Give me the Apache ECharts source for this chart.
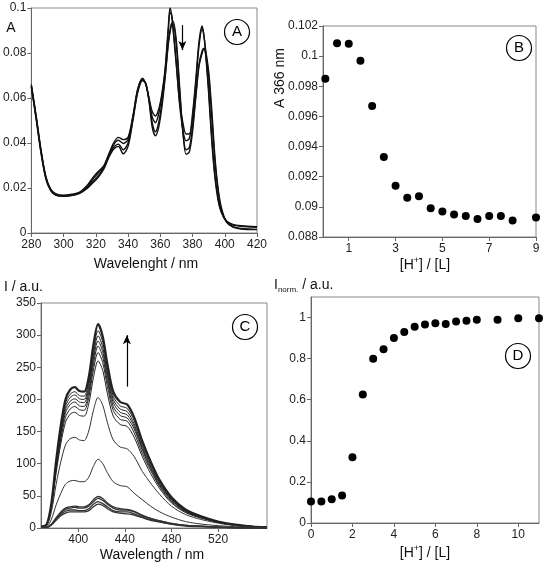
<!DOCTYPE html>
<html>
<head>
<meta charset="utf-8">
<script src="https://cdn.jsdelivr.net/npm/echarts@6/dist/echarts.min.js"></script>
<style>
  html, body { margin: 0; padding: 0; background: #fff; }
  #chart { width: 546px; height: 571px; }
</style>
</head>
<body>
<div id="chart"></div>
<script>
// panel A: absorption spectra
const absWl = [280,283,286,289,292,295,300,305,310,315,318,321,325,328,331,334,337,340,343,346,349,351,353,355,357,359,361,363,365,366,367,368,370,372,374,376,378,380,382,384,386,387,388,390,392,394,396,398,401,405,410,420];
const absA1 = [.066,.052,.037,.025,.0195,.0175,.0168,.0172,.0182,.0215,.0245,.027,.030,.035,.040,.0425,.0415,.0425,.052,.064,.0688,.066,.060,.054,.052,.055,.062,.073,.092,.100,.097,.090,.074,.058,.049,.044,.044,.053,.068,.085,.092,.088,.081,.062,.040,.024,.014,.009,.0055,.0038,.0032,.0028];
const absA2 = [.0655,.0515,.0365,.0248,.0192,.0172,.0166,.017,.018,.021,.0238,.0262,.0295,.0345,.0392,.0412,.0398,.0415,.0515,.0638,.0685,.0662,.0595,.0515,.049,.053,.061,.072,.090,.098,.097,.091,.075,.057,.046,.041,.042,.051,.066,.083,.091,.088,.082,.064,.042,.025,.015,.009,.0052,.0035,.003,.0025];
const absA3 = [.065,.051,.036,.0245,.019,.017,.0165,.0168,.0178,.0205,.0228,.025,.029,.034,.038,.0395,.037,.040,.0505,.063,.068,.0665,.059,.049,.045,.049,.058,.070,.085,.090,.093,.093,.083,.063,.045,.037,.038,.047,.061,.075,.081,.082,.080,.070,.051,.031,.018,.010,.005,.0028,.002,.0016];
const absA4 = [.0648,.0505,.0355,.024,.0188,.0168,.0163,.0166,.0176,.020,.0222,.0243,.0285,.0335,.0372,.0385,.0352,.0385,.050,.0625,.0678,.0665,.0585,.047,.0432,.047,.056,.069,.084,.089,.0925,.094,.085,.065,.045,.035,.036,.045,.060,.074,.080,.082,.0815,.072,.054,.033,.019,.011,.005,.0026,.0018,.0015];

// panel B: A at 366 nm vs [H+]/[L]
const ratioB = [0,0.5,1,1.5,2,2.5,3,3.5,4,4.5,5,5.5,6,6.5,7,7.5,8,9];
const abs366 = [0.0985,0.10085,0.10083,0.0997,0.0967,0.0933,0.0914,0.0906,0.0907,0.0899,0.0897,0.0895,0.0894,0.0892,0.0894,0.0894,0.0891,0.0893];

// panel C: emission spectra
const emWl = [368,373,377,381,385,389,393,397,401,405,409,413,417,421,425,430,436,442,448,455,462,470,480,492,506,525,545,562];
const emCurves = [
  [2,6,40,105,160,200,215,219,213,212,235,285,317,298,255,212,196,192,172,135,104,74,48,29,18,8,3,1],
  [2,6,39,102,155,194,208,212,206,205,228,276,307,289,247,205,190,186,167,131,101,72,46,28,17,8,3,1],
  [2,6,38,99,151,189,203,207,201,200,222,269,299,281,240,200,185,181,162,127,98,70,45,27,17,8,3,1],
  [2,5,37,96,147,184,197,201,196,195,216,262,291,274,234,195,180,176,158,124,95,68,44,27,17,7,3,1],
  [2,5,36,94,143,179,192,196,190,189,210,255,283,266,228,189,175,171,154,121,93,66,43,26,16,7,3,1],
  [2,5,34,90,138,172,185,189,184,183,203,246,273,257,220,183,169,166,148,116,90,64,41,25,16,7,3,1],
  [2,5,33,86,131,164,177,180,175,174,193,234,260,245,209,174,161,158,141,111,85,61,39,24,15,7,2,1],
  [1,4,26,68,103,129,139,141,137,136,151,183,203,191,164,137,126,123,111,88,70,52,34,21,13,6,2,1],
  [1,2,14,36,54,68,73,74,72,72,79,96,107,100,86,72,66,64,54,44,34,25,17,10,6,3,1,0],
  [1,1,6,16,25,31,33,34,33,33,36,44,49,46,39,33,30,29,26,20,15,11,7,4,3,1,1,0],
  [1,1,6,15,23,29,31,32,31,31,34,41,46,43,37,31,28,28,25,19,15,11,7,4,3,1,0,0],
  [1,1,5,14,21,26,28,28,27,27,30,37,41,38,33,27,25,25,22,17,13,10,6,4,2,1,0,0],
  [1,1,5,12,19,23,25,25,25,25,27,33,37,35,30,25,23,22,20,16,12,9,6,3,2,1,0,0]
];

// panel D: normalised intensity vs [H+]/[L]
const ratioD = [0,0.5,1,1.5,2,2.5,3,3.5,4,4.5,5,5.5,6,6.5,7,7.5,8,9,10,11];
const inorm = [0.105,0.105,0.115,0.134,0.320,0.626,0.799,0.846,0.900,0.930,0.955,0.966,0.972,0.968,0.981,0.985,0.989,0.989,0.997,0.997];

const FONT = '"Liberation Sans", Arial, sans-serif';
const zip = (xs, ys) => xs.map((x, i) => [x, ys[i]]);

function xAx(idx, min, max, opts) {
  return Object.assign({
    type: 'value', gridIndex: idx, min: min, max: max,
    axisLine: { show: true, onZero: false, lineStyle: { color: '#666', width: 1 } },
    axisTick: { show: true, length: 4, lineStyle: { color: '#666' } },
    axisLabel: { color: '#222', fontSize: 12, fontFamily: FONT, margin: 6 },
    splitLine: { show: false }
  }, opts);
}
function yAx(idx, min, max, interval, opts) {
  return Object.assign({
    type: 'value', gridIndex: idx, min: min, max: max, interval: interval,
    axisLine: { show: true, onZero: false, lineStyle: { color: '#666', width: 1 } },
    axisTick: { show: true, length: 4, inside: false, lineStyle: { color: '#666' } },
    axisLabel: { color: '#222', fontSize: 12, fontFamily: FONT, margin: 5 },
    splitLine: { show: false }
  }, opts);
}

const grids = [
  { left: 31, top: 8, width: 226, height: 225 },
  { left: 323, top: 26, width: 213, height: 211 },
  { left: 41, top: 303, width: 226, height: 225 },
  { left: 311, top: 297, width: 228, height: 226 }
].map(g => Object.assign(g, { show: true, borderColor: '#888', borderWidth: 1, containLabel: false }));

const series = [];
[absA1, absA2, absA3, absA4].forEach((ys, i) => {
  const s = {
    type: 'line', xAxisIndex: 0, yAxisIndex: 0, data: zip(absWl, ys),
    showSymbol: false, smooth: 0.3, lineStyle: { color: '#111', width: 1.4 }
  };
  if (i === 0) {
    s.markLine = {
      silent: true, symbol: ['none', 'arrow'], symbolSize: [6, 9],
      lineStyle: { color: '#000', type: 'solid', width: 1.2 }, label: { show: false },
      data: [[{ coord: [373.7, 0.0924] }, { coord: [373.7, 0.0813] }]]
    };
  }
  series.push(s);
});
series.push({
  type: 'scatter', xAxisIndex: 1, yAxisIndex: 1, data: zip(ratioB, abs366),
  symbolSize: 8, itemStyle: { color: '#000', opacity: 1 }
});
emCurves.forEach((ys, i) => {
  const s = {
    type: 'line', xAxisIndex: 2, yAxisIndex: 2, data: zip(emWl, ys),
    showSymbol: false, smooth: 0.3,
    lineStyle: { color: i < 7 ? '#222' : '#333', width: i === 0 ? 2.2 : (i >= 9 ? 1.3 : 1) }
  };
  if (i === 0) {
    s.markLine = {
      silent: true, symbol: ['none', 'arrow'], symbolSize: [6, 9],
      lineStyle: { color: '#000', type: 'solid', width: 1.2 }, label: { show: false },
      data: [[{ coord: [441.7, 220] }, { coord: [441.7, 300] }]]
    };
  }
  series.push(s);
});
series.push({
  type: 'scatter', xAxisIndex: 3, yAxisIndex: 3, data: zip(ratioD, inorm),
  symbolSize: 8, itemStyle: { color: '#000', opacity: 1 }
});

function circleLabel(cx, cy, letter) {
  return [
    { type: 'circle', shape: { cx: cx, cy: cy, r: 12.5 }, style: { fill: '#fff', stroke: '#000', lineWidth: 1.2 }, z: 100 },
    { type: 'text', x: cx, y: cy, z: 101, style: { text: letter, font: '15px ' + FONT, fill: '#000', align: 'center', verticalAlign: 'middle' } }
  ];
}
function txt(x, y, text, opts) {
  return Object.assign({ type: 'text', x: x, y: y, z: 100,
    style: { text: text, font: '14px ' + FONT, fill: '#111', align: 'center', verticalAlign: 'middle' } }, opts || {});
}

const graphics = [].concat(
  circleLabel(237, 32, 'A'), circleLabel(519, 48, 'B'),
  circleLabel(245, 327, 'C'), circleLabel(518, 356, 'D'),
  [
    txt(11, 28, 'A'),
    txt(146, 264, 'Wavelenght / nm'),
    txt(280, 78, 'A 366 nm', { rotation: Math.PI / 2 }),
    { type: 'text', x: 425, y: 265, z: 100, style: {
      text: '[H{sup|+}] / [L]', align: 'center', verticalAlign: 'middle', fill: '#111',
      font: '14px ' + FONT, rich: { sup: { fontSize: 9, fontFamily: FONT, verticalAlign: 'top', padding: [0, 0, 8, 0] } } } },
    txt(4, 287, 'I / a.u.', { style: { text: 'I / a.u.', font: '14px ' + FONT, fill: '#111', align: 'left', verticalAlign: 'middle' } }),
    txt(152, 555, 'Wavelength / nm'),
    { type: 'text', x: 274, y: 285, z: 100, style: {
      text: 'I{sub|norm.} / a.u.', align: 'left', verticalAlign: 'middle', fill: '#111',
      font: '14px ' + FONT, rich: { sub: { fontSize: 8, fontFamily: FONT, padding: [10, 0, 0, 0] } } } },
    { type: 'text', x: 425, y: 553, z: 100, style: {
      text: '[H{sup|+}] / [L]', align: 'center', verticalAlign: 'middle', fill: '#111',
      font: '14px ' + FONT, rich: { sup: { fontSize: 9, fontFamily: FONT, padding: [0, 0, 8, 0] } } } }
  ]
);

const chart = echarts.init(document.getElementById('chart'), null, { renderer: 'canvas' });
chart.setOption({
  animation: false,
  backgroundColor: '#fff',
  textStyle: { fontFamily: FONT },
  grid: grids,
  xAxis: [
    xAx(0, 280, 420, { interval: 20 }),
    xAx(1, -0.1, 9, { axisTick: { show: true, length: 4, customValues: [1, 3, 5, 7, 9], lineStyle: { color: '#666' } },
      axisLabel: { color: '#222', fontSize: 12, fontFamily: FONT, margin: 6, customValues: [1, 3, 5, 7, 9] } }),
    xAx(2, 368, 562, { axisTick: { show: true, length: 4, customValues: [400, 440, 480, 520], lineStyle: { color: '#666' } },
      axisLabel: { color: '#222', fontSize: 12, fontFamily: FONT, margin: 6, customValues: [400, 440, 480, 520] } }),
    xAx(3, 0, 11, { axisTick: { show: true, length: 4, customValues: [0, 2, 4, 6, 8, 10], lineStyle: { color: '#666' } },
      axisLabel: { color: '#222', fontSize: 12, fontFamily: FONT, margin: 6, customValues: [0, 2, 4, 6, 8, 10] } })
  ],
  yAxis: [
    yAx(0, 0, 0.1, 0.02),
    yAx(1, 0.088, 0.102, 0.002),
    yAx(2, 0, 350, 50),
    yAx(3, 0, 1.1, 0.2, { axisLabel: { color: '#222', fontSize: 12, fontFamily: FONT, margin: 5, showMaxLabel: false } })
  ],
  series: series,
  graphic: graphics
});
</script>
</body>
</html>
